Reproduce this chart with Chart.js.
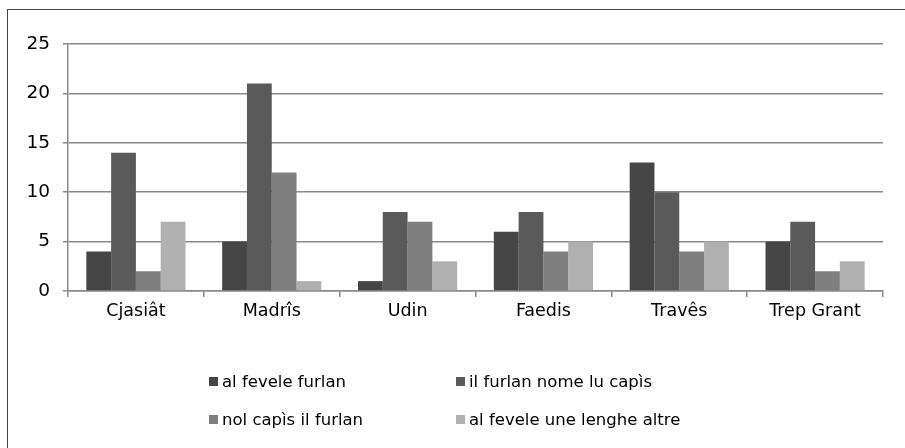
<!DOCTYPE html>
<html>
<head>
<meta charset="utf-8">
<script src="https://cdn.jsdelivr.net/npm/chart.js@4/dist/chart.umd.min.js"></script>
<style>
  html, body { margin: 0; padding: 0; background: #fff; }
  #wrap { position: relative; width: 905px; height: 448px; overflow: hidden; }
  #frame { position: absolute; left: 7px; top: 9px; width: 1000px; height: 600px; border: 1.5px solid #444; box-sizing: border-box; }
  #chart { position: absolute; left: 0; top: 0; }
  .leg { position: absolute; font-family: 'DejaVu Sans', sans-serif; font-size: 16.5px; color: #000; white-space: nowrap; line-height: 18px; }
  .leg span.box { display: inline-block; width: 9px; height: 9px; margin-right: 4px; vertical-align: 1px; }
</style>
</head>
<body>
<div id="wrap">
  <div id="frame"></div>
  <canvas id="chart" width="905" height="448"></canvas>
  <div id="legend"></div>
</div>
<script>
const categories = ['Cjasiât', 'Madrîs', 'Udin', 'Faedis', 'Travês', 'Trep Grant'];
const seriesNames = ['al fevele furlan', 'il furlan nome lu capìs', 'nol capìs il furlan', 'al fevele une lenghe altre'];
const feveleFurlan = [4, 5, 1, 6, 13, 5];
const nomeCapis = [14, 21, 8, 8, 10, 7];
const nolCapis = [2, 12, 7, 4, 4, 2];
const lengheAltre = [7, 1, 3, 5, 5, 3];
const yTicks = [0, 5, 10, 15, 20, 25];

const colors = ['#464646', '#5a5a5a', '#7f7f7f', '#b0b0b0'];
const values = [feveleFurlan, nomeCapis, nolCapis, lengheAltre];

const datasets = seriesNames.map((name, i) => ({
    label: name,
    data: values[i],
    backgroundColor: colors[i],
    borderWidth: 0,
    barPercentage: 1.0,
    categoryPercentage: 0.73
}));

const font = { family: "'DejaVu Sans', sans-serif", size: 17.5 };

new Chart(document.getElementById('chart').getContext('2d'), {
    type: 'bar',
    data: { labels: categories, datasets: datasets },
    options: {
        responsive: false,
        animation: false,
        layout: { padding: { left: 0, right: 22, top: 44, bottom: 117 } },
        plugins: { legend: { display: false }, tooltip: { enabled: false } },
        scales: {
            x: {
                offset: true,
                grid: { offset: true, drawOnChartArea: false, drawTicks: true, tickLength: 6, color: '#8a8a8a', lineWidth: 1.5 },
                border: { color: '#8a8a8a', width: 1.5 },
                ticks: { color: '#000', font: font, padding: 4 },
                afterFit: (s) => { s.height = 40; }
            },
            y: {
                min: 0,
                max: 25,
                afterBuildTicks: (s) => { s.ticks = yTicks.map(v => ({ value: v })); },
                grid: { color: '#8a8a8a', lineWidth: 1.5, tickLength: 5 },
                border: { color: '#8a8a8a', width: 1.5 },
                ticks: { color: '#000', font: { family: "'DejaVu Sans', sans-serif", size: 18.5 }, padding: 13 },
                afterFit: (s) => { s.width = 68; }
            }
        }
    }
});

// legend in two columns like the original
const legendPos = [[209, 373], [456, 373], [209, 411], [456, 411]];
const legendEl = document.getElementById('legend');
seriesNames.forEach((name, i) => {
    const d = document.createElement('div');
    d.className = 'leg';
    d.style.left = legendPos[i][0] + 'px';
    d.style.top = legendPos[i][1] + 'px';
    d.innerHTML = '<span class="box" style="background:' + colors[i] + '"></span>' + name;
    legendEl.appendChild(d);
});
</script>
</body>
</html>
